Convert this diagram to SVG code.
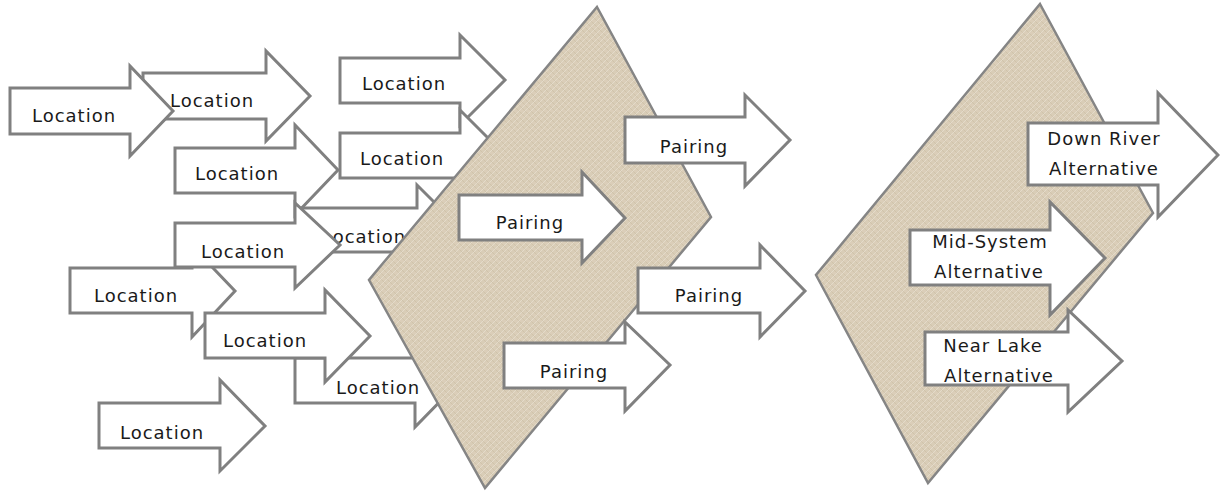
<svg xmlns="http://www.w3.org/2000/svg" width="1220" height="491" viewBox="0 0 1220 491">
<defs>
<style>
.a{fill:#ffffff;stroke:#808080;stroke-width:3;stroke-linejoin:miter}
.c{fill:url(#linen);stroke:#858585;stroke-width:2.5;stroke-linejoin:miter}
.t{font-family:"DejaVu Sans",sans-serif;font-size:18px;letter-spacing:1px;fill:#1a1a1a;text-anchor:middle}
</style>
<pattern id="linen" width="6" height="6" patternUnits="userSpaceOnUse">
<rect width="6" height="6" fill="#d9cdb7"/>
<path d="M0,6 L6,0" stroke="#e8dfcf" stroke-width="1" opacity="0.8"/>
<path d="M0,0 L6,6" stroke="#c6b89f" stroke-width="0.8" opacity="0.6"/>
<path d="M0,3 H6" stroke="#e2d8c6" stroke-width="0.5" opacity="0.5"/>
</pattern>
</defs>
<rect width="1220" height="491" fill="#ffffff"/>
<g id="loc-b"><path class="a" d="M143,73 H266 V51 L310,96 L266,141 V119 H143 Z"/></g>
<g id="loc-a"><path class="a" d="M10,88 H130 V66 L173,111 L130,156 V134 H10 Z"/><text class="t" x="74" y="122">Location</text></g>
<g id="loc-b-label"><text class="t" x="212" y="107">Location</text></g>
<g id="loc-d"><path class="a" d="M340,58 H460 V35 L505,80 L460,125 V103 H340 Z"/><text class="t" x="404" y="90">Location</text></g>
<g id="loc-c"><path class="a" d="M175,148 H295 V125 L338,170 L295,215 V193 H175 Z"/><text class="t" x="237" y="180">Location</text></g>
<g id="loc-e"><path class="a" d="M340,133 H460 V110 L505,155 L460,200 V178 H340 Z"/><text class="t" x="402" y="165">Location</text></g>
<g id="loc-g"><path class="a" d="M297,208 H417 V185 L462,230 L417,275 V252 H297 Z"/><text class="t" x="364" y="243">Location</text></g>
<g id="loc-h"><path class="a" d="M70,268 H192 V246 L235,291 L192,337 V313 H70 Z"/><text class="t" x="136" y="302">Location</text></g>
<g id="loc-f"><path class="a" d="M175,223 H295 V203 L340,245 L295,288 V267 H175 Z"/><text class="t" x="243" y="258">Location</text></g>
<g id="loc-j"><path class="a" d="M295,358 H415 V335 L460,381 L415,427 V403 H295 Z"/><text class="t" x="378" y="394">Location</text></g>
<g id="loc-i"><path class="a" d="M205,313 H325 V290 L370,336 L325,382 V358 H205 Z"/><text class="t" x="265" y="347">Location</text></g>
<g id="loc-k"><path class="a" d="M99,403 H220 V380 L265,426 L220,471 V448 H99 Z"/><text class="t" x="162" y="439">Location</text></g>
<g id="chevron-left"><path class="c" d="M597,7 L711,217 L485,488 L369,280 Z"/></g>
<g id="pair-1"><path class="a" d="M625,117 H745 V95 L790,140 L745,186 V163 H625 Z"/><text class="t" x="694" y="153">Pairing</text></g>
<g id="pair-2"><path class="a" d="M459,195 H582 V172 L625,218 L582,263 V240 H459 Z"/><text class="t" x="530" y="229">Pairing</text></g>
<g id="pair-3"><path class="a" d="M638,268 H760 V245 L805,291 L760,337 V313 H638 Z"/><text class="t" x="709" y="302">Pairing</text></g>
<g id="pair-4"><path class="a" d="M504,343 H625 V322 L670,365 L625,411 V388 H504 Z"/><text class="t" x="574" y="378">Pairing</text></g>
<g id="chevron-right"><path class="c" d="M1040,4 L1153,213 L928,483 L816,275 Z"/></g>
<g id="alt-down-river"><path class="a" d="M1028,123 H1158 V93 L1218,155 L1158,217 V185 H1028 Z"/><text class="t" x="1104" y="145">Down River</text><text class="t" x="1104" y="175">Alternative</text></g>
<g id="alt-mid-system"><path class="a" d="M910,230 H1050 V202 L1105,258 L1050,315 V285 H910 Z"/><text class="t" x="990" y="248">Mid-System</text><text class="t" x="989" y="278">Alternative</text></g>
<g id="alt-near-lake"><path class="a" d="M925,332 H1068 V310 L1122,361 L1068,412 V385 H925 Z"/><text class="t" x="993" y="352">Near Lake</text><text class="t" x="999" y="382">Alternative</text></g>
<g id="connectors"/>
</svg>
